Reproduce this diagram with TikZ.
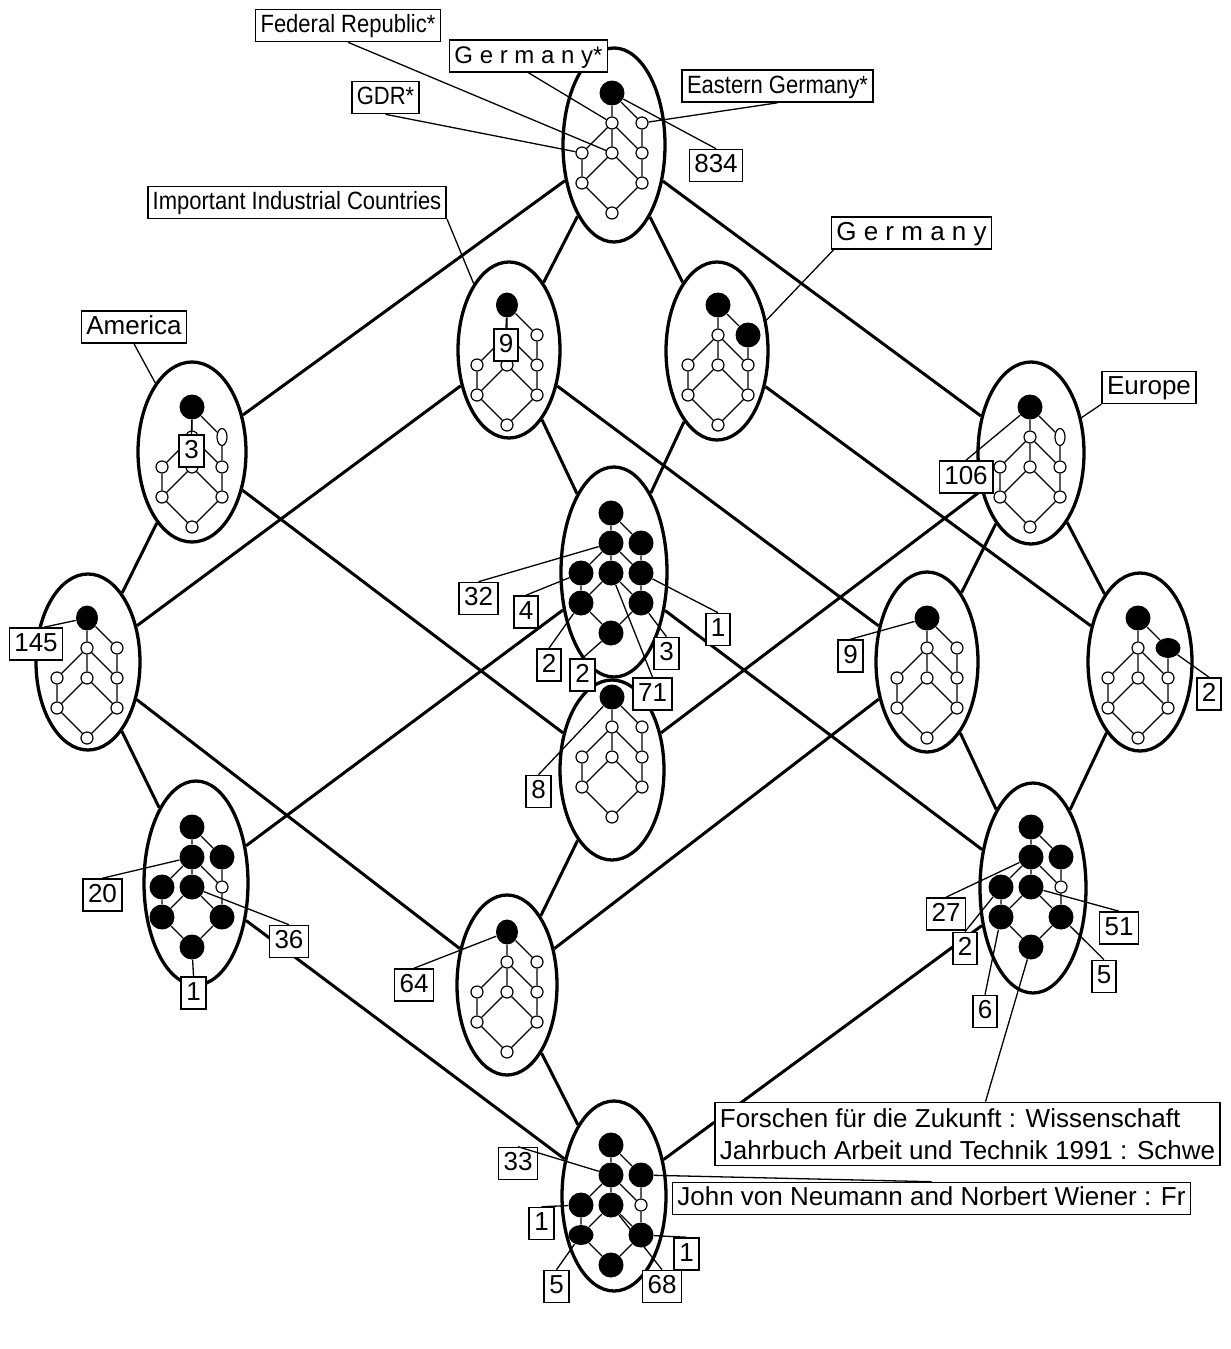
\documentclass[tikz,border=0pt]{standalone}
\usepackage{fontspec}
\setmainfont{Liberation Sans}
\newfontfamily\condfont[FakeStretch=0.88]{Liberation Sans}
\usetikzlibrary{shapes.geometric,calc}
\tikzset{
 wn/.style={circle,draw,fill=white,line width=0.6pt,minimum size=6pt,inner sep=0pt},
 wtall/.style={ellipse,draw,fill=white,line width=0.6pt,minimum width=5pt,minimum height=8.5pt,inner sep=0pt},
 fn/.style={circle,fill=black,minimum size=12.5pt,inner sep=0pt},
 ftall/.style={ellipse,fill=black,minimum width=11pt,minimum height=12.5pt,inner sep=0pt},
 fwide/.style={ellipse,fill=black,minimum width=12.5pt,minimum height=10pt,inner sep=0pt},
 lT/.style={wn},lA/.style={wn},lB/.style={wn},lC/.style={wn},lD/.style={wn},
 lE/.style={wn},lF/.style={wn},lG/.style={wn},lH/.style={wn},
 allf/.style={lT/.style={fn},lA/.style={fn},lB/.style={fn},lC/.style={fn},lD/.style={fn},lE/.style={fn},lF/.style={fn},lG/.style={fn},lH/.style={fn}},
 iedge/.style={line width=0.65pt},
 oedge/.style={line width=1.5pt},
 lead/.style={line width=0.65pt},
 oell/.style 2 args={ellipse,draw,line width=1.65pt,fill=white,inner sep=0pt,minimum width=#1pt,minimum height=#2pt},
 lbox/.style={draw,fill=white,line width=0.8pt,inner xsep=2.5pt,inner ysep=0pt,minimum height=16pt,text height=9.5pt,text depth=2.5pt,font=\fontsize{13pt}{15pt}\selectfont},
 cbox/.style={lbox,font=\condfont\fontsize{12.5pt}{15pt}\selectfont},
 mbox/.style={draw,fill=white,line width=0.8pt,inner xsep=2.5pt,inner ysep=3pt,align=left,font=\fontsize{13pt}{16pt}\selectfont},
}
\newcommand\lat[4]{%
\begin{scope}[shift={(#2,#3)},#4]
\node[lT] (#1T) at (0,0) {};
\node[lA] (#1A) at (0,30) {};
\node[lB] (#1B) at (30,30) {};
\node[lC] (#1C) at (-30,60) {};
\node[lD] (#1D) at (0,60) {};
\node[lE] (#1E) at (30,60) {};
\node[lF] (#1F) at (-30,90) {};
\node[lG] (#1G) at (30,90) {};
\node[lH] (#1H) at (0,120) {};
\draw[iedge] (#1T)--(#1A) (#1T)--(#1B) (#1A)--(#1C) (#1A)--(#1D) (#1A)--(#1E)
  (#1B)--(#1E) (#1C)--(#1F) (#1D)--(#1F) (#1D)--(#1G) (#1E)--(#1G) (#1F)--(#1H) (#1G)--(#1H);
\end{scope}}
\begin{document}
\begin{tikzpicture}[x=0.5pt,y=-0.5pt]
\useasboundingbox (0,0) rectangle (1231,1349);
% outer ellipses
\node[oell={51}{97}] (Q1) at (614,145) {};
\node[oell={51}{88}] (Q2) at (509,350) {};
\node[oell={51}{89}] (Q3) at (717,351) {};
\node[oell={54}{90}] (Q4) at (192,452) {};
\node[oell={53}{91}] (Q5) at (1031,453) {};
\node[oell={53}{105}] (Q6) at (614,572) {};
\node[oell={52}{88}] (Q7) at (88,662) {};
\node[oell={51}{90}] (Q8) at (927,662) {};
\node[oell={52}{89}] (Q9) at (1140,662) {};
\node[oell={52}{90}] (Q10) at (612,770) {};
\node[oell={52}{102}] (Q11) at (196,883) {};
\node[oell={53}{105}] (Q12) at (1033,888) {};
\node[oell={50}{90}] (Q13) at (507,985) {};
\node[oell={52}{95}] (Q14) at (614,1196) {};
% outer edges
\draw[oedge] (Q1)--(Q2) (Q1)--(Q3) (Q1)--(Q4) (Q1)--(Q5)
 (Q2)--(Q6) (Q2)--(Q7) (Q2)--(Q8)
 (Q3)--(Q6) (Q3)--(Q9)
 (Q4)--(Q7) (Q4)--(Q10)
 (Q5)--(Q8) (Q5)--(Q9) (Q5)--(Q10)
 (Q6)--(Q11) (Q6)--(Q12)
 (Q7)--(Q11) (Q7)--(Q13)
 (Q8)--(Q12) (Q8)--(Q13)
 (Q9)--(Q12) (Q10)--(Q13)
 (Q11)--(Q14) (Q12)--(Q14) (Q13)--(Q14);
% inner lattices
\lat{u1}{612}{93}{lT/.style={fn}}
\lat{u2}{507}{305}{lT/.style={ftall}}
\lat{u3}{718}{305}{lT/.style={fn},lB/.style={fn}}
\lat{u4}{192}{407}{lT/.style={fn},lB/.style={wtall}}
\lat{u5}{1030}{407}{lT/.style={fn},lB/.style={wtall}}
\lat{u6}{611}{513}{allf}
\lat{u7}{87}{618}{lT/.style={ftall}}
\lat{u8}{927}{618}{lT/.style={fn}}
\lat{u9}{1138}{618}{lT/.style={fn},lB/.style={fwide}}
\lat{u10}{612}{697}{lT/.style={fn}}
\lat{u11}{192}{827}{allf,lE/.style={wn}}
\lat{u12}{1031}{827}{allf,lE/.style={wn}}
\lat{u13}{507}{932}{lT/.style={ftall}}
\lat{u14}{611}{1145}{allf,lE/.style={wn},lF/.style={fwide}}
% label boxes
\node[cbox] (fedrep) at (348,25.5) {Federal Republic*};
\node[lbox,font=\fontsize{12pt}{15pt}\selectfont] (germstar) at (528.5,56) {G e r m a n y*};
\node[cbox] (gdr) at (385.5,97.5) {GDR*};
\node[cbox] (eastg) at (777.5,86) {Eastern Germany*};
\node[lbox] (n834) at (716,165.5) {834};
\node[cbox] (iic) at (297,202.5) {Important Industrial Countries};
\node[lbox] (germany) at (911.5,233) {G e r m a n y};
\node[lbox] (america) at (134,327) {America};
\node[lbox] (europe) at (1149,387.5) {Europe};
\node[lbox] (n9a) at (506,345) {9};
\node[lbox] (n3a) at (191.5,451) {3};
\node[lbox] (n106) at (966,477) {106};
\node[lbox] (n145) at (36,644) {145};
\node[lbox] (n32) at (478.5,598.5) {32};
\node[lbox] (n4) at (526,612) {4};
\node[lbox] (n1q6) at (718,629.5) {1};
\node[lbox] (n2q6a) at (549,665) {2};
\node[lbox] (n3q6) at (666.5,653.5) {3};
\node[lbox] (n2q6b) at (582.5,675) {2};
\node[lbox] (n71) at (652.5,694) {71};
\node[lbox] (n9b) at (850.5,656) {9};
\node[lbox] (n2q9) at (1209,694) {2};
\node[lbox] (n8) at (538.5,791.5) {8};
\node[lbox] (n20) at (102.5,895) {20};
\node[lbox] (n36) at (289,941.5) {36};
\node[lbox] (n1q11) at (193.5,993) {1};
\node[lbox] (n64) at (414,985) {64};
\node[lbox] (n27) at (946,914) {27};
\node[lbox] (n2q12) at (965,948.5) {2};
\node[lbox] (n51) at (1119,928) {51};
\node[lbox] (n5q12) at (1104,976.5) {5};
\node[lbox] (n6) at (985,1011.5) {6};
\node[mbox] (forschen) at (967.5,1134) {Forschen für die Zukunft : Wissenschaft\\Jahrbuch Arbeit und Technik 1991 : Schwe};
\node[lbox] (n33) at (518,1163.5) {33};
\node[lbox] (john) at (931.5,1198.5) {John von Neumann and Norbert Wiener : Fr};
\node[lbox] (n1q14a) at (541.5,1223.5) {1};
\node[lbox] (n1q14b) at (686.5,1254) {1};
\node[lbox] (n5q14) at (556.5,1286.5) {5};
\node[lbox] (n68) at (662,1286.5) {68};
% leader lines
\draw[lead] (fedrep.south)--(u1D) (germstar.south)--(u1A) (gdr.south)--(u1C)
 (u1B)--(eastg.south) (u1T)--(n834.north)
 (iic.south east)--(Q2.118) ($(germany.south west)+(3,0)$)--(Q3.32)
 (america.south)--(Q4.118) (europe.south west)--(Q5.35)
 (u2T)--(n9a.north) (u4T)--(n3a.north) (u5T)--(n106.north) (u7T)--($(n145.north)+(8,0)$)
 (u6A)--(n32.north) (u6C)--(n4.north) (u6F)--(n2q6a.north) (u6H)--(n2q6b.north)
 (u6D)--(n71.north) (u6G)--(n3q6.north) (u6E)--(n1q6.north)
 (u8T)--(n9b.north) (u9B)--(n2q9.north) (u10T)--(n8.north)
 (u11A)--(n20.north) (u11D)--(n36.north) (u11H)--(n1q11.north)
 (u13T)--(n64.north)
 (u12A)--(n27.north) (u12C)--(n2q12.north) (u12F)--(n6.north) (u12G)--(n5q12.north)
 (u12D)--(n51.north) (u12H)--($(forschen.north)+(18,0)$)
 (u14A)--(n33.north) (u14B)--(john.north) (u14C)--(n1q14a.north)
 (u14F)--(n5q14.north) (u14D)--(n68.north) (u14G)--(n1q14b.north);
\end{tikzpicture}
\end{document}
